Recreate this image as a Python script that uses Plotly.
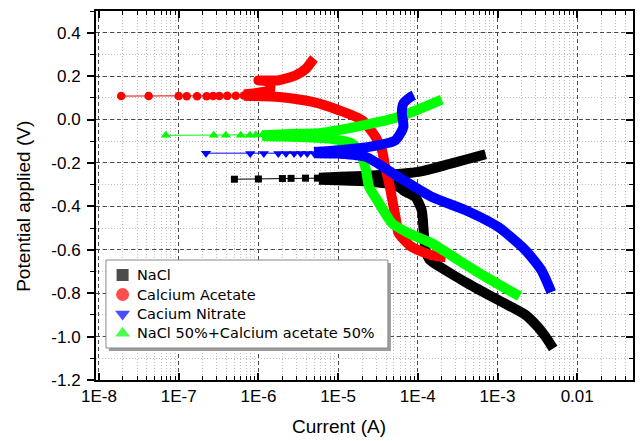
import plotly.graph_objects as go

# ---- NaCl ----
nacl_cath_i = [5.0e-3, 4.0e-3, 3.2e-3, 2.24e-3, 1.0e-3, 4.0e-4, 2.24e-4, 1.4e-4, 1.25e-4, 1.19e-4,
               1.12e-4, 9.3e-5, 7.1e-5, 5.75e-5, 4.0e-5, 2.24e-5, 5.75e-6]
nacl_cath_v = [-1.055, -1.0, -0.955, -0.90, -0.83, -0.75, -0.695, -0.645, -0.60, -0.524,
               -0.418, -0.357, -0.334, -0.311, -0.294, -0.285, -0.278]
nacl_anod_i = [5.75e-6, 2.95e-5, 1.02e-4, 2.66e-4, 6.3e-4, 7.1e-4]
nacl_anod_v = [-0.268, -0.257, -0.241, -0.202, -0.165, -0.160]
nacl_ecorr_i = [5.0e-7, 1.0e-6, 2.0e-6, 2.57e-6, 3.9e-6, 5.5e-6]
nacl_ecorr_v = [-0.275, -0.274, -0.272, -0.271, -0.270, -0.270]

# ---- Calcium acetate ----
caac_cath_i = [2.24e-4, 1.5e-4, 8.4e-5, 5.75e-5, 5.25e-5, 4.37e-5, 3.9e-5, 3.55e-5, 2.95e-5,
               2.0e-5, 1.02e-5, 4.79e-6, 1.82e-6, 6.6e-7]
caac_cath_v = [-0.635, -0.625, -0.587, -0.524, -0.449, -0.295, -0.218, -0.141, -0.080,
               -0.003, 0.043, 0.081, 0.104, 0.110]
caac_anod_i = [6.6e-7, 9.0e-7, 1.2e-6, 1.4e-6, 1.4e-6, 1.2e-6, 1.0e-6, 1.3e-6, 1.82e-6,
               2.95e-6, 3.98e-6, 4.79e-6, 5.0e-6]
caac_anod_v = [0.115, 0.121, 0.128, 0.135, 0.165, 0.178, 0.180, 0.180, 0.181,
               0.204, 0.235, 0.273, 0.281]
caac_ecorr_i = [1.9e-8, 4.2e-8, 1.0e-7, 1.26e-7, 1.7e-7, 2.24e-7, 2.7e-7, 3.24e-7, 4.07e-7,
                5.2e-7, 6.6e-7]
caac_ecorr_v = [0.108, 0.108, 0.108, 0.107, 0.107, 0.107, 0.108, 0.108, 0.109, 0.110, 0.111]

# ---- Calcium nitrate ----
cano_cath_i = [4.73e-3, 4.57e-3, 3.55e-3, 2.24e-3, 1.02e-3, 3.98e-4, 1.51e-4, 5.75e-5, 2.24e-5,
               1.02e-5, 5.0e-6]
cano_cath_v = [-0.795, -0.782, -0.694, -0.602, -0.495, -0.418, -0.357, -0.265, -0.172,
               -0.157, -0.155]
cano_anod_i = [5.0e-6, 1.02e-5, 2.45e-5, 5.25e-5, 6.6e-5, 6.3e-5, 6.6e-5, 8.1e-5, 8.9e-5]
cano_anod_v = [-0.150, -0.141, -0.126, -0.095, -0.034, 0.028, 0.074, 0.104, 0.112]
cano_ecorr_i = [2.2e-7, 7.9e-7, 1.17e-6, 1.78e-6, 2.22e-6, 2.8e-6, 3.4e-6, 4.1e-6, 5.0e-6,
                6.0e-6, 7.4e-6, 8.5e-6]
cano_ecorr_v = [-0.155, -0.156, -0.156, -0.157, -0.157, -0.157, -0.157, -0.157, -0.156,
                -0.155, -0.154, -0.153]

# ---- NaCl 50% + calcium acetate 50% ----
mix_cath_i = [1.9e-3, 1.51e-3, 7.1e-4, 3.24e-4, 1.51e-4, 7.8e-5, 4.8e-5, 3.1e-5, 2.45e-5,
              2.24e-5, 2.0e-5, 1.51e-5, 7.8e-6, 3.0e-6, 1.12e-6]
mix_cath_v = [-0.814, -0.794, -0.725, -0.648, -0.571, -0.525, -0.479, -0.372, -0.311,
              -0.234, -0.172, -0.111, -0.088, -0.080, -0.076]
mix_anod_i = [1.12e-6, 3.0e-6, 5.75e-6, 1.02e-5, 3.24e-5, 5.75e-5, 8.5e-5, 2.0e-4]
mix_anod_v = [-0.072, -0.066, -0.063, -0.049, -0.011, 0.012, 0.035, 0.092]
mix_ecorr_i = [6.9e-8, 2.75e-7, 3.9e-7, 6.0e-7, 7.8e-7, 9.3e-7, 1.12e-6, 1.38e-6, 1.66e-6,
               2.0e-6, 2.45e-6, 2.95e-6, 3.4e-6, 4.0e-6, 4.6e-6, 5.2e-6]
mix_ecorr_v = [-0.073, -0.073, -0.073, -0.072, -0.072, -0.071, -0.070, -0.069, -0.068,
               -0.067, -0.066, -0.065, -0.064, -0.063, -0.062, -0.061]

x_tick_vals = [1e-8, 1e-7, 1e-6, 1e-5, 1e-4, 1e-3, 1e-2]
x_tick_text = ["1E-8", "1E-7", "1E-6", "1E-5", "1E-4", "1E-3", "0.01"]
y_tick_vals = [-1.2, -1.0, -0.8, -0.6, -0.4, -0.2, 0.0, 0.2, 0.4]
y_tick_text = ["-1.2", "-1.0", "-0.8", "-0.6", "-0.4", "-0.2", "0.0", "0.2", "0.4"]

legend_names = ["NaCl", "Calcium Acetate", "Cacium Nitrate", "NaCl 50%+Calcium acetate 50%"]
legend_colors = ["#000000", "#FF0000", "#0000FF", "#00FF00"]
legend_symbols = ["square", "circle", "triangle-down", "triangle-up"]

# drawing order: NaCl, acetate, mixture, nitrate (nitrate ends up on top)
series = [
    ("#000000", "square", 7, (nacl_cath_i, nacl_cath_v), (nacl_anod_i, nacl_anod_v),
     (nacl_ecorr_i, nacl_ecorr_v)),
    ("#FF0000", "circle", 8.5, (caac_cath_i, caac_cath_v), (caac_anod_i, caac_anod_v),
     (caac_ecorr_i, caac_ecorr_v)),
    ("#00FF00", "triangle-up", 9, (mix_cath_i, mix_cath_v), (mix_anod_i, mix_anod_v),
     (mix_ecorr_i, mix_ecorr_v)),
    ("#0000FF", "triangle-down", 9, (cano_cath_i, cano_cath_v), (cano_anod_i, cano_anod_v),
     (cano_ecorr_i, cano_ecorr_v)),
]

fig = go.Figure()

for color, symbol, msize, cath, anod, ecorr in series:
    # dense polarisation branches, drawn as a thick band
    fig.add_trace(go.Scatter(
        x=list(cath[0]) + [None] + list(anod[0]),
        y=list(cath[1]) + [None] + list(anod[1]),
        mode="lines", line=dict(color=color, width=10, shape="spline", smoothing=0.6),
        connectgaps=False, showlegend=False, hoverinfo="skip"))
    # sparse points near the corrosion potential, joined by a thin line
    fig.add_trace(go.Scatter(
        x=ecorr[0], y=ecorr[1], mode="lines+markers",
        line=dict(color=color, width=1),
        marker=dict(symbol=symbol, size=msize, color=color, line=dict(width=0)),
        showlegend=False, hoverinfo="skip"))

# secondary y axis only carries the inward ticks on the right frame
fig.add_trace(go.Scatter(x=[], y=[], yaxis="y2", showlegend=False, hoverinfo="skip"))

# ---- legend box, drawn on a hidden unit-square overlay so it sits above the curves ----
px_w, px_h = 539.0, 369.0          # plot area size in pixels
box_l, box_r, box_t, box_b = 10, 293, 120, 32   # box edges, pixels from plot's bottom-left
shadow = 3
def ux(p): return p / px_w
def uy(p): return p / px_h

fig.add_trace(go.Scatter(
    x=[ux(box_l + shadow), ux(box_r + shadow), ux(box_r + shadow), ux(box_l + shadow), ux(box_l + shadow)],
    y=[uy(box_b - shadow), uy(box_b - shadow), uy(box_t - shadow), uy(box_t - shadow), uy(box_b - shadow)],
    xaxis="x3", yaxis="y3", mode="lines", fill="toself", fillcolor="#9c9c9c",
    line=dict(width=0, color="#9c9c9c"), showlegend=False, hoverinfo="skip"))
fig.add_trace(go.Scatter(
    x=[ux(box_l), ux(box_r), ux(box_r), ux(box_l), ux(box_l)],
    y=[uy(box_b), uy(box_b), uy(box_t), uy(box_t), uy(box_b)],
    xaxis="x3", yaxis="y3", mode="lines", fill="toself", fillcolor="#ffffff",
    line=dict(width=1, color="#8a8a8a"), showlegend=False, hoverinfo="skip"))

row_y = [105, 85.5, 66, 46.7]
sym_x = 26.7
text_x = 40
fig.add_trace(go.Scatter(
    x=[ux(sym_x)] * len(legend_names), y=[uy(r) for r in row_y],
    xaxis="x3", yaxis="y3", mode="markers",
    marker=dict(symbol=legend_symbols, size=[12, 13, 13, 13], color=legend_colors,
                line=dict(width=0)),
    showlegend=False, hoverinfo="skip"))

annotations = [
    dict(text=name, xref="paper", yref="paper", x=ux(text_x), y=uy(r),
         xanchor="left", yanchor="middle", showarrow=False, borderpad=0,
         font=dict(family="DejaVu Sans, sans-serif", size=14.5, color="#000000"))
    for name, r in zip(legend_names, row_y)
]
annotations += [
    dict(text="Current (A)", xref="paper", yref="paper", x=0.4527, y=-0.127,
         xanchor="center", yanchor="middle", showarrow=False,
         font=dict(family="Liberation Sans, Arial, sans-serif", size=19, color="#000000")),
    dict(text="Potential applied (V)", xref="paper", yref="paper", x=-0.1354, y=0.470,
         xanchor="center", yanchor="middle", textangle=-90, showarrow=False,
         font=dict(family="Liberation Sans, Arial, sans-serif", size=19, color="#000000")),
]

minor_x = [m * 10.0 ** e for e in range(-9, -1) for m in range(2, 10)]

tick_font = dict(family="Liberation Sans, Arial, sans-serif", size=17, color="#000000")
major_grid = dict(gridcolor="#4a4a4a", gridwidth=1, griddash="4px,3px")
minor_grid = dict(showgrid=True, gridcolor="#bdbdbd", gridwidth=1, griddash="1px,2px")

fig.update_layout(
    width=642, height=441,
    margin=dict(l=96, r=7, t=11, b=61),
    paper_bgcolor="white", plot_bgcolor="white",
    showlegend=False,
    xaxis=dict(
        type="log", range=[-8.0375, -1.30],
        tickmode="array", tickvals=x_tick_vals, ticktext=x_tick_text,
        ticks="inside", ticklen=7, tickwidth=1.5, tickcolor="#000000",
        showline=True, linecolor="#000000", linewidth=2, mirror="ticks",
        showgrid=True, **major_grid, zeroline=False,
        tickfont=tick_font,
        minor=dict(tickmode="array", tickvals=minor_x, ticks="inside", ticklen=4,
                   tickwidth=1, tickcolor="#000000", **minor_grid),
    ),
    yaxis=dict(
        range=[-1.2, 0.5], tickmode="array", tickvals=y_tick_vals, ticktext=y_tick_text,
        ticks="outside", ticklen=7, tickwidth=1.5, tickcolor="#000000",
        showline=True, linecolor="#000000", linewidth=2, mirror=True,
        showgrid=True, **major_grid, zeroline=False,
        tickfont=tick_font, ticklabelstandoff=3,
        minor=dict(dtick=0.1, ticks="outside", ticklen=4, tickwidth=1,
                   tickcolor="#000000", **minor_grid),
    ),
    yaxis2=dict(
        overlaying="y", side="right", range=[-1.2, 0.5], tickvals=y_tick_vals,
        ticks="inside", ticklen=7, tickwidth=1.5, tickcolor="#000000",
        showticklabels=False, showgrid=False, zeroline=False, showline=False,
        minor=dict(dtick=0.1, ticks="inside", ticklen=4, tickwidth=1,
                   tickcolor="#000000", showgrid=False),
    ),
    xaxis3=dict(overlaying="x", range=[0, 1], visible=False),
    yaxis3=dict(overlaying="y", range=[0, 1], visible=False),
    annotations=annotations,
)

fig.write_html("out.html")
